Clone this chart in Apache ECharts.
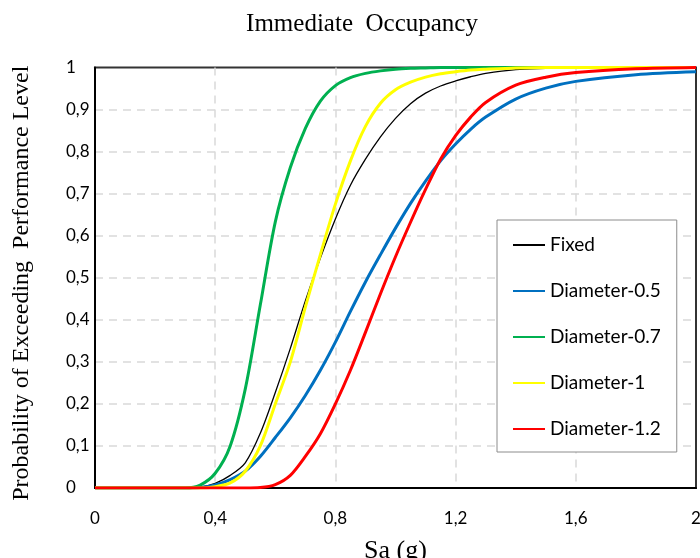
<!DOCTYPE html>
<html>
<head>
<meta charset="utf-8">
<script src="https://cdn.jsdelivr.net/npm/echarts@6/dist/echarts.min.js"></script>
<style>
html,body{margin:0;padding:0;background:#fff;}
#chart{width:700px;height:558px;}
</style>
</head>
<body>
<div id="chart"></div>
<script>
// Sa (g) sample points
const saValues = [0, 0.3, 0.35, 0.4, 0.45, 0.5, 0.55, 0.6, 0.65, 0.7, 0.75, 0.8, 0.85, 0.9, 0.95, 1.0, 1.05, 1.1, 1.15, 1.2, 1.25, 1.3, 1.4, 1.5, 1.6, 1.8, 2.0];
const seriesNames = ['Fixed', 'Diameter-0.5', 'Diameter-0.7', 'Diameter-1', 'Diameter-1.2'];
const fixedValues =  [0, 0, 0.002, 0.011, 0.03, 0.06, 0.13, 0.227, 0.332, 0.445, 0.547, 0.64, 0.72, 0.782, 0.835, 0.879, 0.914, 0.939, 0.956, 0.968, 0.978, 0.986, 0.995, 0.998, 1, 1, 1];
const d05Values =    [0, 0, 0.001, 0.007, 0.02, 0.04, 0.075, 0.12, 0.167, 0.22, 0.28, 0.347, 0.42, 0.49, 0.555, 0.618, 0.677, 0.73, 0.778, 0.818, 0.853, 0.882, 0.925, 0.951, 0.967, 0.983, 0.99];
const d07Values =    [0, 0, 0.007, 0.035, 0.1, 0.235, 0.435, 0.633, 0.762, 0.855, 0.92, 0.957, 0.976, 0.986, 0.992, 0.996, 0.998, 0.999, 1, 1, 1, 1, 1, 1, 1, 1, 1];
const d1Values =     [0, 0, 0, 0.003, 0.012, 0.04, 0.1, 0.2, 0.3, 0.43, 0.555, 0.675, 0.778, 0.86, 0.915, 0.947, 0.965, 0.977, 0.985, 0.99, 0.994, 0.996, 0.999, 1, 1, 1, 1];
const d12Values =    [0, 0, 0, 0, 0, 0, 0.001, 0.008, 0.03, 0.075, 0.129, 0.2, 0.28, 0.37, 0.462, 0.55, 0.632, 0.71, 0.782, 0.838, 0.882, 0.917, 0.958, 0.977, 0.988, 0.997, 1];
const xTicks = [0, 0.4, 0.8, 1.2, 1.6, 2];
const yTicks = [0, 0.1, 0.2, 0.3, 0.4, 0.5, 0.6, 0.7, 0.8, 0.9, 1];

const allValues = [fixedValues, d05Values, d07Values, d1Values, d12Values];
const colors = ['#000000', '#0070C0', '#00B050', '#FFFF00', '#FF0000'];
const widths = [1.3, 3, 3, 3, 3];

const fmt = v => String(Number(v.toFixed(1))).replace('.', ',');

const chart = echarts.init(document.getElementById('chart'), null, {renderer: 'canvas'});
chart.setOption({
  animation: false,
  backgroundColor: '#ffffff',
  title: {
    text: 'Immediate  Occupancy',
    left: 357, textAlign: 'center', top: 7,
    textStyle: {fontFamily: '"Liberation Serif", "Times New Roman", serif', fontSize: 25, fontWeight: 'normal', color: '#000'}
  },
  legend: {
    orient: 'vertical', left: 497, top: 220,
    padding: [15, 16, 13, 15],
    backgroundColor: '#fff', borderColor: '#8c8c8c', borderWidth: 1,
    itemWidth: 32, itemHeight: 14, itemGap: 26,
    itemStyle: {opacity: 0},
    textStyle: {fontFamily: 'Lato, "Open Sans", sans-serif', fontSize: 19, color: '#000', lineHeight: 20},
    data: seriesNames
  },
  grid: {
    left: 95, right: 4, top: 67.5, bottom: 70,
    outerBoundsMode: 'none', containLabel: false,
    show: true, borderColor: '#333', borderWidth: 2
  },
  xAxis: {
    type: 'value', min: 0, max: 2, interval: 0.4,
    name: 'Sa (g)', nameLocation: 'middle', nameGap: 50,
    nameTextStyle: {fontFamily: '"Liberation Serif", "Times New Roman", serif', fontSize: 26, color: '#000'},
    axisLine: {show: true, lineStyle: {color: '#000', width: 2}},
    axisTick: {show: false},
    axisLabel: {margin: 22, fontFamily: 'Lato, "Open Sans", sans-serif', fontSize: 17, color: '#000', formatter: fmt},
    splitLine: {show: true, showMaxLine: false, lineStyle: {color: '#d9d9d9', width: 1.5, type: [8, 6]}}
  },
  yAxis: {
    type: 'value', min: 0, max: 1, interval: 0.1,
    name: 'Probability of Exceeding  Performance Level', nameLocation: 'middle', nameGap: 61, nameRotate: 90,
    nameTextStyle: {fontFamily: '"Liberation Serif", "Times New Roman", serif', fontSize: 24, color: '#000', padding: [0, 11, 0, 0]},
    axisLine: {show: true, lineStyle: {color: '#000', width: 2}},
    axisTick: {show: false},
    axisLabel: {margin: 29, align: 'left', fontFamily: 'Lato, "Open Sans", sans-serif', fontSize: 17, color: '#000', formatter: fmt},
    splitLine: {show: true, showMaxLine: false, lineStyle: {color: '#d9d9d9', width: 1.5, type: [8, 6]}}
  },
  series: seriesNames.map((name, i) => ({
    name: name,
    type: 'line',
    data: saValues.map((x, j) => [x, allValues[i][j]]),
    smooth: 0.3,
    symbol: 'none',
    showSymbol: false,
    clip: true,
    color: colors[i],
    lineStyle: {color: colors[i], width: widths[i]}
  }))
});
</script>
</body>
</html>
